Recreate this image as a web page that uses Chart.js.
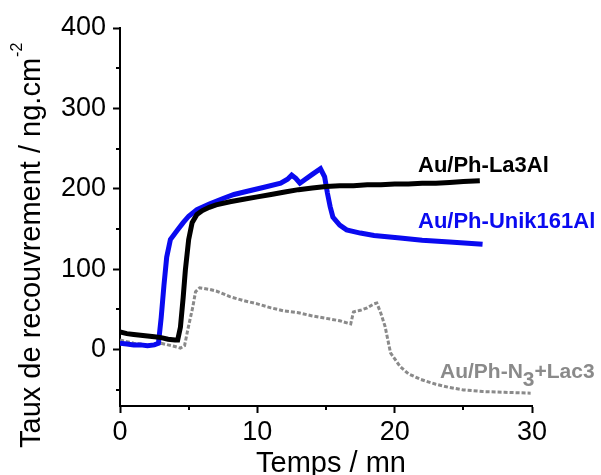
<!DOCTYPE html>
<html>
<head>
<meta charset="utf-8">
<script src="https://cdn.jsdelivr.net/npm/chart.js@4/dist/chart.umd.min.js"></script>
<style>
    html, body { margin: 0; padding: 0; background: #fff; }
    #wrap { width: 601px; height: 475px; }
</style>
</head>
<body>
<div id="wrap"><canvas id="qcmChart" width="601" height="475"></canvas></div>
<script>
// Au/Ph-La3Al (black)
const la3Time = [0, 0.5, 1, 1.5, 2, 2.5, 3, 3.5, 4, 4.2, 4.4, 4.6, 4.76, 5.0, 5.25, 5.6, 6, 6.5, 7, 8, 9, 10, 11, 12, 13, 14, 15, 16, 17, 18, 19, 20, 21, 22, 23, 24, 25, 26.2];
const la3Val  = [22, 20, 19, 18, 17, 16, 15, 13, 12, 12, 28, 65, 99, 137, 158, 168, 173, 177, 180, 184, 187, 190, 193, 196, 199, 201, 203, 204, 204, 205, 205, 206, 206, 207, 207, 208, 209, 210];

// Au/Ph-Unik161Al (blue)
const unikTime = [0, 0.5, 1, 1.5, 2, 2.5, 2.8, 3.0, 3.2, 3.4, 3.67, 4.2, 4.6, 5.0, 5.6, 6.5, 7.5, 8.3, 9.5, 10.5, 11.7, 12.2, 12.5, 12.8, 13.1, 13.5, 14, 14.6, 14.9, 15.1, 15.3, 15.5, 16, 16.5, 17.5, 18.5, 20.4, 22, 24, 26.4];
const unikVal  = [8, 7, 6, 6, 5, 6, 8, 40, 80, 115, 137, 149, 158, 166, 174, 181, 188, 193, 198, 202, 207, 212, 217, 213, 207, 212, 218, 225, 215, 195, 178, 165, 155, 149, 145, 142, 139, 136, 134, 131];

// Au/Ph-N3+Lac3 (grey)
const lacTime = [0, 0.5, 1, 1.5, 2, 2.5, 3, 3.5, 4, 4.4, 4.7, 5.0, 5.3, 5.5, 5.8, 6.5, 7, 8, 9, 10, 11, 12, 13, 14, 15, 16, 16.8, 17.0, 17.5, 18, 18.5, 18.7, 19.0, 19.3, 19.7, 20.4, 21, 21.9, 23, 24, 25, 26.4, 28, 29.9];
const lacVal  = [12, 10, 8, 7, 5, 6, 8, 6, 4, 2, 5, 30, 53, 72, 77, 75, 73, 66, 61, 57, 52, 48, 46, 42, 39, 36, 32, 47, 49, 52, 57, 58, 45, 29, -4, -21, -30, -37, -43, -47, -50, -52, -53, -54];

const xTicks = [0, 10, 20, 30];
const yTicks = [0, 100, 200, 300, 400];
const xMinor = [5, 15, 25];
const yMinor = [-50, 50, 150, 250, 350];

const FONT = '"Liberation Sans", Arial, sans-serif';

function toPoints(xs, ys) {
    return xs.map((x, i) => ({ x: x, y: ys[i] }));
}

// minor ticks + axis titles + series labels
const decorPlugin = {
    id: 'decor',
    afterDraw(chart) {
        const ctx = chart.ctx;
        const xs = chart.scales.x;
        const ys = chart.scales.y;
        const area = chart.chartArea;

        ctx.save();
        ctx.strokeStyle = '#000';
        ctx.lineWidth = 2;
        ctx.beginPath();
        yMinor.forEach(v => {
            const py = Math.round(ys.getPixelForValue(v));
            ctx.moveTo(area.left, py);
            ctx.lineTo(area.left - 4, py);
        });
        xMinor.forEach(v => {
            const px = Math.round(xs.getPixelForValue(v));
            ctx.moveTo(px, area.bottom);
            ctx.lineTo(px, area.bottom + 4);
        });
        ctx.stroke();

        // x title
        ctx.fillStyle = '#000';
        ctx.font = '29px ' + FONT;
        ctx.textAlign = 'center';
        ctx.textBaseline = 'alphabetic';
        ctx.fillText('Temps / mn', 331, 472);

        // y title, rotated, with superscript
        ctx.save();
        ctx.translate(40, 448);
        ctx.rotate(-Math.PI / 2);
        ctx.textAlign = 'left';
        ctx.font = '29px ' + FONT;
        const main = 'Taux de recouvrement / ng.cm';
        ctx.fillText(main, 0, 0);
        const w = ctx.measureText(main).width;
        ctx.font = '16px ' + FONT;
        ctx.fillText('-2', w + 1, -18);
        ctx.restore();

        // series labels
        ctx.textAlign = 'left';
        ctx.font = 'bold 22px ' + FONT;
        ctx.fillStyle = '#000';
        ctx.fillText('Au/Ph-La3Al', 418, 172);
        ctx.fillStyle = '#0a0af0';
        ctx.fillText('Au/Ph-Unik161Al', 418, 228);

        ctx.fillStyle = '#8a8a8a';
        ctx.font = 'bold 21px ' + FONT;
        let tx = 440;
        const part1 = 'Au/Ph-N';
        ctx.fillText(part1, tx, 378);
        tx += ctx.measureText(part1).width;
        ctx.fillText('3', tx, 386);
        tx += ctx.measureText('3').width;
        ctx.fillText('+Lac3', tx, 378);
        ctx.restore();
    }
};

const axisStyle = {
    border: { display: true, color: '#000', width: 2 },
    grid: {
        display: true,
        drawOnChartArea: false,
        drawTicks: true,
        tickLength: 7,
        tickWidth: 2,
        tickColor: '#000'
    }
};

new Chart(document.getElementById('qcmChart'), {
    type: 'scatter',
    data: {
        datasets: [
            {
                label: 'Au/Ph-La3Al',
                data: toPoints(la3Time, la3Val),
                showLine: true,
                borderColor: '#000000',
                borderWidth: 5,
                pointRadius: 0,
                tension: 0
            },
            {
                label: 'Au/Ph-Unik161Al',
                data: toPoints(unikTime, unikVal),
                showLine: true,
                borderColor: '#0a0af0',
                borderWidth: 5,
                pointRadius: 0,
                tension: 0
            },
            {
                label: 'Au/Ph-N3+Lac3',
                data: toPoints(lacTime, lacVal),
                showLine: true,
                borderColor: '#8a8a8a',
                borderWidth: 3,
                borderDash: [4, 2],
                pointRadius: 0,
                tension: 0
            }
        ]
    },
    options: {
        responsive: false,
        animation: false,
        layout: { padding: { top: 28, right: 69, left: 0, bottom: 0 } },
        plugins: {
            legend: { display: false },
            tooltip: { enabled: false }
        },
        scales: {
            x: {
                type: 'linear',
                min: 0,
                max: 30,
                ...axisStyle,
                afterBuildTicks: scale => { scale.ticks = xTicks.map(v => ({ value: v })); },
                afterFit: scale => { scale.height = 69; },
                ticks: {
                    color: '#000',
                    padding: 3,
                    maxRotation: 0,
                    font: { family: FONT, size: 27 }
                }
            },
            y: {
                type: 'linear',
                min: -70,
                max: 400,
                ...axisStyle,
                afterBuildTicks: scale => { scale.ticks = yTicks.map(v => ({ value: v })); },
                afterFit: scale => { scale.width = 120; },
                ticks: {
                    color: '#000',
                    padding: 7,
                    font: { family: FONT, size: 27 }
                }
            }
        }
    },
    plugins: [decorPlugin]
});
</script>
</body>
</html>
